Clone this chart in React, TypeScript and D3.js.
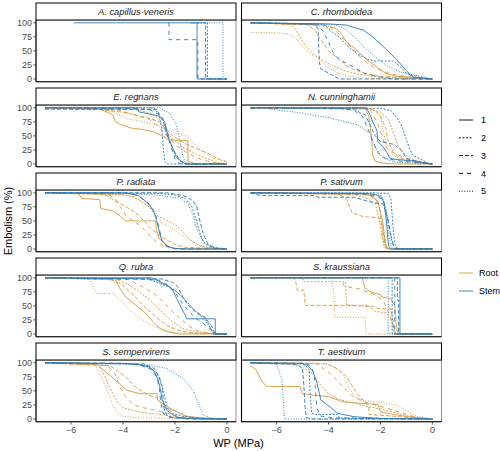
import React from "react";
import * as d3 from "d3";

type Pt = [number, number];

const speciesNames = [
  "A. capillus-veneris", "C. rhomboidea",
  "E. regnans", "N. cunninghamii",
  "P. radiata", "P. sativum",
  "Q. rubra", "S. kraussiana",
  "S. sempervirens", "T. aestivum",
];
const tissues = ["Root", "Stem"];
const repLabels = ["1", "2", "3", "4", "5"];
const xTicks = [-6, -4, -2, 0];
const yTicks = [0, 25, 50, 75, 100];

// each array: replicate 1..5, points [WP, embolism %]
const aCapRoot: Pt[][] = [];
const aCapStem: Pt[][] = [
  [[-5.9, 100], [-1.15, 100], [-1.15, 0], [0, 0]],
  [[-1.3, 100], [-0.75, 100], [-0.75, 0], [0, 0]],
  [[-1.4, 100], [-0.82, 100], [-0.82, 0], [0, 0]],
  [[-2.23, 100], [-2.23, 70], [-1.12, 70], [-1.12, 0], [0, 0]],
  [[-1.1, 100], [-0.15, 100], [-0.15, 0], [0, 0]],
];

const cRhoRoot: Pt[][] = [
  [[-7, 100], [-4.2, 96], [-3.7, 90], [-3.5, 80], [-3.3, 65], [-3.0, 55], [-2.7, 42], [-2.4, 30], [-2.1, 20], [-1.8, 10], [-1.4, 5], [-0.8, 3], [0, 0]],
  [[-7, 100], [-5.5, 98], [-5.3, 90], [-5.1, 75], [-4.9, 60], [-4.6, 45], [-4.3, 35], [-3.9, 25], [-3.4, 15], [-2.8, 8], [-2.0, 3], [0, 0]],
  [[-7, 100], [-4.8, 97], [-4.5, 85], [-4.3, 70], [-4.0, 50], [-3.6, 35], [-3.2, 20], [-2.6, 10], [-2.0, 5], [-1.0, 2], [0, 0]],
  [[-7, 100], [-4.0, 95], [-3.6, 80], [-3.2, 60], [-2.8, 40], [-2.4, 25], [-2.0, 15], [-1.5, 8], [-0.8, 3], [0, 0]],
  [[-7, 83], [-6.0, 82], [-5.5, 80], [-5.2, 70], [-5.0, 58], [-4.7, 45], [-4.3, 32], [-4.0, 20], [-3.7, 12], [-3.3, 5], [-2.5, 1], [0, 0]],
];
const cRhoStem: Pt[][] = [
  [[-7, 100], [-4.0, 98], [-3.3, 96], [-2.9, 90], [-2.66, 87], [-2.3, 75], [-1.9, 58], [-1.6, 45], [-1.4, 35], [-1.25, 28], [-1.0, 15], [-0.86, 7], [-0.7, 3], [-0.3, 1], [0, 0]],
  [[-7, 100], [-4.2, 98], [-3.9, 85], [-3.6, 75], [-3.3, 60], [-2.9, 45], [-2.5, 35], [-2.2, 32], [-1.5, 32], [-1.2, 20], [-1.0, 10], [-0.5, 3], [0, 0]],
  [[-7, 100], [-4.6, 97], [-4.4, 90], [-4.38, 60], [-4.35, 30], [-4.3, 18], [-3.9, 8], [-3.6, 0], [0, 0]],
  [[-7, 100], [-4.5, 98], [-4.2, 85], [-4.0, 65], [-3.8, 45], [-3.6, 35], [-3.3, 28], [-3.0, 20], [-2.6, 10], [-2.2, 5], [-1.5, 0], [0, 0]],
  [[-7, 100], [-3.8, 97], [-3.4, 90], [-3.0, 75], [-2.6, 55], [-2.2, 40], [-1.8, 25], [-1.2, 12], [-0.5, 5], [0, 0]],
];

const eRegRoot: Pt[][] = [
  [[-7, 100], [-4.9, 98], [-4.4, 88], [-4.3, 75], [-3.95, 68], [-3.6, 63], [-3.3, 62], [-2.8, 57], [-2.5, 50], [-2.3, 45], [-2.0, 42], [-1.5, 42], [-1.5, 5], [-1.2, 0], [0, 0]],
  [[-7, 100], [-3.5, 97], [-2.9, 90], [-2.6, 80], [-2.4, 60], [-2.1, 45], [-1.7, 30], [-1.2, 18], [-0.8, 10], [-0.4, 3], [0, 0]],
  [[-7, 98], [-4.9, 97], [-4.0, 92], [-3.1, 83], [-2.6, 75], [-2.1, 50], [-1.55, 35], [-0.78, 20], [-0.15, 5], [0, 4]],
  [[-7, 100], [-4.2, 96], [-3.6, 88], [-3.0, 80], [-2.6, 65], [-2.3, 50], [-2.0, 35], [-1.6, 22], [-1.1, 10], [-0.6, 3], [0, 0]],
  [[-7, 100], [-4.6, 97], [-3.8, 80], [-3.2, 75], [-2.6, 68], [-2.0, 55], [-1.55, 50], [-1.0, 25], [-0.5, 10], [0, 5]],
];
const eRegStem: Pt[][] = [
  [[-7, 100], [-3.45, 100], [-3.4, 93], [-2.6, 85], [-2.4, 75], [-2.3, 55], [-2.2, 40], [-2.06, 25], [-1.95, 12], [-1.75, 5], [-1.6, 0], [0, 0]],
  [[-7, 100], [-2.8, 100], [-2.6, 85], [-2.5, 60], [-2.45, 30], [-2.4, 5], [-2.3, 0], [0, 0]],
  [[-7, 98], [-2.7, 97], [-2.45, 75], [-2.3, 50], [-2.06, 25], [-1.8, 5], [-1.6, 0], [0, 0]],
  [[-7, 100], [-3.0, 98], [-2.5, 85], [-2.3, 60], [-2.15, 30], [-2.0, 10], [-1.8, 0], [0, 0]],
  [[-7, 100], [-2.6, 100], [-2.2, 90], [-1.95, 70], [-1.8, 40], [-1.7, 15], [-1.6, 3], [-1.4, 0], [0, 0]],
];

const nCunRoot: Pt[][] = [
  [[-7, 100], [-2.6, 100], [-2.45, 85], [-2.35, 50], [-2.3, 15], [-2.2, 5], [-2.0, 2], [-1.5, 0], [0, 0]],
  [[-7, 100], [-2.4, 98], [-2.0, 92], [-1.7, 80], [-1.5, 55], [-1.3, 30], [-1.0, 15], [-0.6, 5], [0, 0]],
  [[-7, 100], [-2.5, 98], [-2.2, 95], [-2.0, 85], [-1.8, 65], [-1.7, 40], [-1.5, 20], [-1.2, 10], [-0.8, 5], [0, 0]],
  [[-7, 100], [-2.5, 100], [-2.3, 90], [-2.1, 70], [-1.9, 45], [-1.8, 30], [-1.5, 20], [-1.0, 10], [-0.5, 3], [0, 0]],
  [[-7, 100], [-2.3, 99], [-2.0, 85], [-1.9, 60], [-1.75, 30], [-1.5, 15], [-1.0, 5], [0, 0]],
];
const nCunStem: Pt[][] = [
  [[-7, 100], [-2.55, 100], [-2.4, 88], [-2.3, 75], [-2.14, 60], [-2.1, 40], [-1.89, 30], [-1.75, 20], [-1.63, 10], [-1.4, 8], [-0.6, 5], [-0.1, 0], [0, 0]],
  [[-7, 100], [-2.0, 99], [-1.6, 95], [-1.4, 85], [-1.2, 70], [-1.05, 50], [-0.9, 30], [-0.75, 15], [-0.5, 10], [-0.2, 2], [0, 0]],
  [[-7, 100], [-3.0, 98], [-2.75, 90], [-2.6, 88], [-2.4, 70], [-2.2, 50], [-2.0, 40], [-1.5, 35], [-1.2, 25], [-1.0, 10], [-0.5, 3], [0, 0]],
  [[-7, 100], [-3.5, 99], [-3.0, 95], [-2.7, 85], [-2.5, 65], [-2.3, 40], [-2.1, 20], [-1.8, 10], [-1.2, 5], [0, 0]],
  [[-6.3, 98], [-5.23, 92], [-3.94, 82], [-2.9, 70], [-2.4, 55], [-2.14, 25], [-1.89, 10], [-1.4, 3], [-0.1, 0], [0, 0]],
];

const pRadRoot: Pt[][] = [
  [[-7, 100], [-5.7, 98], [-5.6, 90], [-4.9, 88], [-4.85, 72], [-4.4, 68], [-4.1, 58], [-3.9, 50], [-2.75, 50], [-2.7, 30], [-2.6, 18], [-2.4, 10], [-2.2, 3], [-1.9, 0], [0, 0]],
  [[-7, 100], [-4.1, 97], [-3.6, 93], [-3.3, 85], [-3.0, 75], [-2.8, 62], [-2.5, 55], [-2.2, 48], [-1.9, 40], [-1.6, 25], [-1.3, 12], [-1.0, 5], [-0.5, 1], [0, 0]],
  [[-7, 100], [-5.0, 98], [-4.6, 95], [-4.3, 85], [-4.0, 78], [-3.7, 70], [-3.4, 60], [-3.1, 45], [-2.9, 35], [-2.6, 25], [-2.3, 15], [-2.0, 8], [-1.6, 3], [0, 0]],
  [[-7, 100], [-4.6, 98], [-4.3, 90], [-4.1, 75], [-3.9, 60], [-3.6, 50], [-3.3, 40], [-3.0, 25], [-2.7, 12], [-2.4, 5], [-2.0, 1], [0, 0]],
  [[-7, 100], [-3.8, 96], [-3.4, 88], [-3.1, 78], [-2.8, 70], [-2.5, 45], [-2.2, 40], [-1.9, 30], [-1.6, 20], [-1.2, 10], [-0.8, 3], [0, 0]],
];
const pRadStem: Pt[][] = [
  [[-7, 100], [-3.9, 100], [-3.4, 95], [-3.0, 80], [-2.8, 65], [-2.7, 50], [-2.6, 30], [-2.5, 15], [-2.3, 5], [-2.0, 1], [-1.5, 0], [0, 0]],
  [[-7, 100], [-2.6, 99], [-2.0, 96], [-1.6, 90], [-1.35, 75], [-1.2, 55], [-1.05, 30], [-0.9, 12], [-0.6, 3], [0, 0]],
  [[-7, 100], [-2.3, 100], [-1.9, 97], [-1.55, 93], [-1.3, 85], [-1.16, 75], [-1.04, 50], [-0.91, 27], [-0.72, 8], [-0.4, 1], [0, 0]],
  [[-7, 100], [-3.9, 100], [-3.5, 96], [-3.1, 85], [-2.85, 70], [-2.7, 55], [-2.6, 35], [-2.5, 15], [-2.35, 5], [-2.0, 0], [0, 0]],
  [[-7, 100], [-3.4, 98], [-2.5, 95], [-1.8, 90], [-1.5, 80], [-1.3, 60], [-1.2, 40], [-1.0, 20], [-0.8, 8], [-0.5, 2], [0, 0]],
];

const pSatRoot: Pt[][] = [
  [[-7, 100], [-2.7, 98], [-2.4, 95], [-2.1, 85], [-2.0, 65], [-1.9, 45], [-1.85, 25], [-1.8, 10], [-1.75, 2], [-1.6, 0], [0, 0]],
  [[-7, 100], [-3.0, 97], [-2.5, 90], [-2.2, 80], [-2.05, 55], [-1.95, 25], [-1.85, 5], [-1.75, 0], [0, 0]],
  [[-7, 100], [-3.6, 98], [-3.3, 88], [-3.1, 65], [-2.7, 58], [-2.0, 55], [-1.9, 30], [-1.8, 5], [-1.7, 0], [0, 0]],
  [[-7, 100], [-2.6, 98], [-2.2, 92], [-2.05, 75], [-1.95, 45], [-1.88, 20], [-1.8, 3], [-1.7, 0], [0, 0]],
  [[-7, 100], [-2.3, 97], [-2.1, 85], [-1.95, 50], [-1.9, 10], [-1.85, 0], [0, 0]],
];
const pSatStem: Pt[][] = [
  [[-7, 100], [-2.6, 99], [-2.2, 97], [-1.95, 92], [-1.85, 80], [-1.8, 60], [-1.75, 40], [-1.72, 20], [-1.68, 5], [-1.6, 0], [0, 0]],
  [[-7, 100], [-2.3, 100], [-1.7, 99], [-1.6, 90], [-1.55, 60], [-1.5, 30], [-1.45, 10], [-1.38, 2], [-1.3, 0], [0, 0]],
  [[-7, 100], [-6.6, 95], [-4.5, 95], [-4.4, 92], [-3.0, 92], [-2.5, 85], [-2.2, 82], [-1.9, 80], [-1.75, 60], [-1.65, 35], [-1.55, 10], [-1.45, 2], [-1.3, 0], [0, 0]],
  [[-7, 100], [-3.0, 98], [-2.2, 95], [-1.9, 88], [-1.8, 70], [-1.7, 50], [-1.6, 25], [-1.5, 8], [-1.4, 0], [0, 0]],
  [[-7, 100], [-2.5, 99], [-2.0, 96], [-1.85, 85], [-1.75, 55], [-1.68, 25], [-1.6, 5], [-1.5, 0], [0, 0]],
];

const qRubRoot: Pt[][] = [
  [[-7, 100], [-4.3, 98], [-4.2, 88], [-4.1, 80], [-3.9, 66], [-3.5, 51], [-3.2, 40], [-3.0, 30], [-2.7, 15], [-2.5, 8], [-2.3, 4], [-1.8, 0], [0, 0]],
  [[-7, 100], [-4.2, 96], [-3.8, 88], [-3.4, 76], [-3.0, 62], [-2.7, 48], [-2.4, 35], [-2.1, 22], [-1.7, 10], [-1.2, 4], [-0.6, 1], [0, 0]],
  [[-7, 100], [-4.5, 97], [-4.1, 90], [-3.8, 78], [-3.5, 65], [-3.2, 50], [-2.9, 38], [-2.6, 25], [-2.3, 15], [-1.9, 7], [-1.4, 2], [0, 0]],
  [[-7, 100], [-3.8, 97], [-3.5, 90], [-3.1, 80], [-2.7, 68], [-2.4, 55], [-2.1, 40], [-1.8, 28], [-1.5, 15], [-1.1, 5], [-0.5, 0], [0, 0]],
  [[-7, 100], [-5.3, 98], [-5.2, 88], [-5.0, 72], [-4.4, 72], [-4.1, 60], [-3.8, 45], [-3.4, 30], [-3.0, 18], [-2.5, 8], [-2.0, 2], [0, 0]],
];
const qRubStem: Pt[][] = [
  [[-7, 100], [-2.9, 100], [-2.7, 96], [-2.2, 84], [-2.05, 75], [-1.93, 63], [-1.74, 45], [-1.62, 35], [-1.55, 27], [-0.45, 27], [-0.45, 0], [0, 0]],
  [[-7, 100], [-3.0, 98], [-2.6, 90], [-2.3, 85], [-2.0, 78], [-1.7, 65], [-1.4, 50], [-1.1, 35], [-0.8, 25], [-0.6, 8], [-0.5, 0], [0, 0]],
  [[-7, 100], [-2.5, 98], [-2.1, 92], [-1.9, 85], [-1.75, 70], [-1.55, 55], [-1.35, 45], [-1.15, 38], [-0.85, 30], [-0.6, 15], [-0.45, 0], [0, 0]],
  [[-7, 100], [-2.7, 97], [-2.3, 88], [-2.0, 75], [-1.8, 60], [-1.55, 45], [-1.25, 30], [-0.9, 18], [-0.6, 8], [-0.5, 0], [0, 0]],
  [[-7, 100], [-3.2, 99], [-2.8, 94], [-2.4, 88], [-2.1, 80], [-1.8, 70], [-1.5, 55], [-1.2, 40], [-0.9, 28], [-0.7, 15], [-0.55, 2], [0, 0]],
];

const sKraRoot: Pt[][] = [
  [[-7, 100], [-2.7, 100], [-2.6, 82], [-2.4, 75], [-2.0, 70], [-1.95, 66], [-1.6, 63], [-1.45, 50], [-1.4, 20], [-1.35, 5], [-1.3, 0], [0, 0]],
  [[-7, 100], [-5.0, 100], [-4.95, 93], [-3.35, 93], [-3.3, 51], [-2.5, 51], [-2.2, 40], [-1.8, 38], [-1.6, 30], [-1.5, 10], [-1.45, 0], [0, 0]],
  [[-7, 100], [-5.3, 100], [-5.25, 90], [-5.2, 78], [-4.95, 78], [-4.9, 51], [-3.1, 51], [-2.2, 48], [-2.1, 45], [-1.6, 45], [-1.5, 20], [-1.45, 5], [-1.4, 0], [0, 0]],
  [[-7, 100], [-3.5, 100], [-3.4, 85], [-2.8, 80], [-2.2, 70], [-1.9, 60], [-1.7, 40], [-1.55, 20], [-1.45, 5], [-1.4, 0], [0, 0]],
  [[-7, 100], [-3.9, 100], [-3.8, 75], [-3.75, 30], [-2.6, 30], [-2.55, 0], [0, 0]],
];
const sKraStem: Pt[][] = [
  [[-7, 100], [-1.25, 100], [-1.25, 0], [0, 0]],
  [[-7, 100], [-1.55, 100], [-1.55, 0], [0, 0]],
  [[-7, 100], [-1.35, 100], [-1.35, 60], [-1.3, 60], [-1.3, 0], [0, 0]],
  [[-7, 100], [-1.45, 100], [-1.45, 0], [0, 0]],
  [[-7, 100], [-1.7, 100], [-1.7, 0], [0, 0]],
];

const sSemRoot: Pt[][] = [
  [[-7, 100], [-5.0, 98], [-4.7, 85], [-4.24, 67], [-3.85, 51], [-3.35, 45], [-2.7, 45], [-2.65, 33], [-2.3, 22], [-2.05, 15], [-1.55, 5], [-1.0, 2], [0, 0]],
  [[-7, 100], [-5.0, 98], [-4.8, 85], [-4.6, 65], [-4.4, 45], [-4.2, 30], [-4.0, 20], [-3.6, 15], [-3.0, 10], [-2.5, 8], [-2.0, 3], [-1.2, 0], [0, 0]],
  [[-7, 100], [-4.5, 95], [-4.2, 85], [-3.9, 75], [-3.6, 60], [-3.3, 50], [-3.0, 42], [-2.7, 38], [-2.4, 20], [-2.0, 15], [-1.6, 5], [-1.2, 2], [0, 0]],
  [[-7, 100], [-4.6, 95], [-4.3, 80], [-4.1, 55], [-3.9, 40], [-3.6, 25], [-3.2, 20], [-2.7, 15], [-2.3, 10], [-1.8, 4], [-1.0, 1], [0, 0]],
  [[-7, 100], [-5.1, 97], [-4.9, 82], [-4.7, 60], [-4.55, 45], [-4.4, 25], [-4.2, 10], [-4.0, 5], [-3.5, 2], [0, 0]],
];
const sSemStem: Pt[][] = [
  [[-7, 100], [-4.0, 99], [-3.4, 97], [-3.0, 93], [-2.8, 85], [-2.65, 70], [-2.55, 50], [-2.5, 35], [-2.4, 25], [-2.3, 15], [-2.1, 8], [-1.9, 3], [-1.5, 1], [0, 0]],
  [[-7, 100], [-3.5, 98], [-3.0, 92], [-2.7, 82], [-2.5, 60], [-2.4, 40], [-2.3, 20], [-2.1, 10], [-1.7, 5], [-1.0, 1], [0, 0]],
  [[-7, 100], [-3.2, 98], [-2.8, 90], [-2.6, 75], [-2.5, 55], [-2.45, 35], [-2.4, 15], [-2.3, 5], [-2.0, 2], [-1.0, 0], [0, 0]],
  [[-7, 100], [-3.8, 99], [-3.3, 95], [-2.9, 88], [-2.7, 75], [-2.6, 55], [-2.55, 30], [-2.45, 10], [-2.2, 3], [-1.5, 0], [0, 0]],
  [[-7, 100], [-3.1, 97], [-2.32, 90], [-1.68, 72], [-1.29, 50], [-1.1, 27], [-0.9, 7], [-0.6, 1], [0, 0]],
];

const tAesRoot: Pt[][] = [
  [[-7, 95], [-6.8, 88], [-6.6, 70], [-6.4, 58], [-5.1, 58], [-5.0, 45], [-4.5, 42], [-4.0, 40], [-3.4, 30], [-2.1, 26], [-2.0, 13], [-1.5, 8], [-0.8, 3], [0, 0]],
  [[-7, 100], [-5.5, 98], [-5.0, 92], [-4.6, 80], [-4.3, 60], [-4.0, 45], [-3.6, 35], [-3.0, 28], [-2.5, 22], [-2.0, 18], [-1.5, 12], [-1.0, 6], [-0.5, 2], [0, 0]],
  [[-7, 100], [-4.2, 99], [-3.9, 95], [-3.6, 88], [-3.3, 75], [-3.1, 60], [-2.9, 45], [-2.6, 30], [-2.45, 22], [-2.43, 8], [-1.5, 5], [-0.8, 2], [0, 0]],
  [[-7, 100], [-4.5, 99], [-4.2, 90], [-3.9, 80], [-3.6, 65], [-3.3, 50], [-3.0, 38], [-2.6, 30], [-2.2, 25], [-1.8, 20], [-1.4, 14], [-1.0, 8], [-0.6, 3], [0, 0]],
  [[-7, 100], [-4.0, 98], [-3.7, 90], [-3.4, 75], [-3.2, 55], [-3.0, 40], [-2.6, 32], [-2.0, 30], [-1.4, 25], [-1.0, 15], [-0.6, 5], [0, 0]],
];
const tAesStem: Pt[][] = [
  [[-7, 100], [-5.0, 99], [-4.8, 95], [-4.6, 85], [-4.45, 65], [-4.35, 45], [-4.3, 34], [-3.95, 22], [-3.65, 10], [-3.0, 4], [-2.0, 1], [0, 0]],
  [[-7, 100], [-5.0, 98], [-4.75, 90], [-4.7, 40], [-4.65, 10], [-4.5, 8], [-3.65, 8], [-3.6, 2], [-3.0, 1], [0, 0]],
  [[-7, 100], [-5.2, 97], [-5.0, 90], [-4.95, 60], [-4.9, 20], [-4.85, 3], [-4.7, 0], [0, 0]],
  [[-7, 100], [-4.9, 99], [-4.7, 95], [-4.55, 80], [-4.5, 50], [-4.45, 20], [-4.3, 5], [-3.8, 2], [0, 0]],
  [[-7, 100], [-6.0, 98], [-5.8, 70], [-5.72, 20], [-5.7, 0], [0, 0]],
];

const curveTable: Record<string, { Root: Pt[][]; Stem: Pt[][] }> = {
  "A. capillus-veneris": { Root: aCapRoot, Stem: aCapStem },
  "C. rhomboidea": { Root: cRhoRoot, Stem: cRhoStem },
  "E. regnans": { Root: eRegRoot, Stem: eRegStem },
  "N. cunninghamii": { Root: nCunRoot, Stem: nCunStem },
  "P. radiata": { Root: pRadRoot, Stem: pRadStem },
  "P. sativum": { Root: pSatRoot, Stem: pSatStem },
  "Q. rubra": { Root: qRubRoot, Stem: qRubStem },
  "S. kraussiana": { Root: sKraRoot, Stem: sKraStem },
  "S. sempervirens": { Root: sSemRoot, Stem: sSemStem },
  "T. aestivum": { Root: tAesRoot, Stem: tAesStem },
};

const colors: Record<string, string> = { Root: "#D99A3C", Stem: "#2A79B8" };
const dashes = ["", "2,1.5", "4,2", "4,4", "1,1.6"];

const FONT = "'Liberation Sans', Arial, Helvetica, sans-serif";
const colX = [36, 241.5];
const panelW = 200;
const stripH = 17;
const panelH = 61.8;
const rowPitch = 85;
const top0 = 3;

export default function App() {
  const line = d3.line<Pt>();
  return (
    <svg width={500} height={451} style={{ position: "absolute", left: 0, top: 0, background: "#fff" }} fontFamily={FONT}>
      <rect width={500} height={451} fill="#fff" />
      {speciesNames.map((sp, i) => {
        const col = i % 2;
        const row = Math.floor(i / 2);
        const x0 = colX[col];
        const stripTop = top0 + row * rowPitch;
        const pTop = stripTop + stripH;
        const x = d3.scaleLinear().domain([-7.35, 0.35]).range([x0, x0 + panelW]);
        const y = d3.scaleLinear().domain([-5, 105]).range([pTop + panelH, pTop]);
        line.x((d) => x(d[0])).y((d) => y(d[1]));
        const isBottom = row === 4;
        const isLeft = col === 0;
        return (
          <g key={sp}>
            <rect x={x0} y={pTop} width={panelW} height={panelH} fill="#fff" />
            <clipPath id={`clip${i}`}>
              <rect x={x0} y={pTop} width={panelW} height={panelH} />
            </clipPath>
            <g clipPath={`url(#clip${i})`}>
              {tissues.map((t) =>
                curveTable[sp][t as "Root" | "Stem"].map((pts, r) => (
                  <path
                    key={t + r}
                    d={line(pts) || ""}
                    fill="none"
                    stroke={colors[t]}
                    strokeWidth={0.9}
                    strokeDasharray={dashes[r]}
                  />
                ))
              )}
            </g>
            <rect x={x0} y={pTop} width={panelW} height={panelH} fill="none" stroke="#7a7a7a" strokeWidth={0.8} />
            <line x1={x0} x2={x0} y1={pTop} y2={pTop + panelH} stroke="#000" strokeWidth={1.1} />
            <line x1={x0} x2={x0 + panelW} y1={pTop + panelH} y2={pTop + panelH} stroke="#000" strokeWidth={1.1} />
            <rect x={x0} y={stripTop} width={panelW} height={stripH} fill="#fff" stroke="#000" strokeWidth={1} />
            <text x={x0 + panelW / 2} y={stripTop + stripH / 2 + 3.3} textAnchor="middle" fontSize={9.4} fontStyle="italic" fill="#1a1a1a">
              {sp}
            </text>
            {isLeft &&
              yTicks.map((v) => (
                <g key={v}>
                  <line x1={x0 - 2.7} x2={x0} y1={y(v)} y2={y(v)} stroke="#333" strokeWidth={0.8} />
                  <text x={x0 - 4} y={y(v) + 3.2} textAnchor="end" fontSize={9} fill="#4d4d4d">{v}</text>
                </g>
              ))}
            {isBottom &&
              xTicks.map((v) => (
                <g key={v}>
                  <line x1={x(v)} x2={x(v)} y1={pTop + panelH} y2={pTop + panelH + 2.7} stroke="#333" strokeWidth={0.8} />
                  <text x={x(v)} y={pTop + panelH + 11.5} textAnchor="middle" fontSize={9} fill="#4d4d4d">
                    {v < 0 ? `\u2212${Math.abs(v)}` : v}
                  </text>
                </g>
              ))}
          </g>
        );
      })}
      <text x={238.5} y={447} textAnchor="middle" fontSize={11} fill="#000">WP (MPa)</text>
      <text transform="translate(11.5,221) rotate(-90)" textAnchor="middle" fontSize={11} fill="#000">Embolism (%)</text>
      {repLabels.map((lab, r) => {
        const yy = 120 + r * 17.8;
        return (
          <g key={lab}>
            <line x1={459} x2={473} y1={yy} y2={yy} stroke="#000" strokeWidth={0.9} strokeDasharray={dashes[r]} />
            <text x={481} y={yy + 3.2} fontSize={9} fill="#000">{lab}</text>
          </g>
        );
      })}
      {tissues.map((t, k) => {
        const yy = 273 + k * 18;
        return (
          <g key={t}>
            <line x1={459} x2={473} y1={yy} y2={yy} stroke={colors[t]} strokeWidth={0.9} />
            <text x={479} y={yy + 3.2} fontSize={9} fill="#000">{t}</text>
          </g>
        );
      })}
    </svg>
  );
}
